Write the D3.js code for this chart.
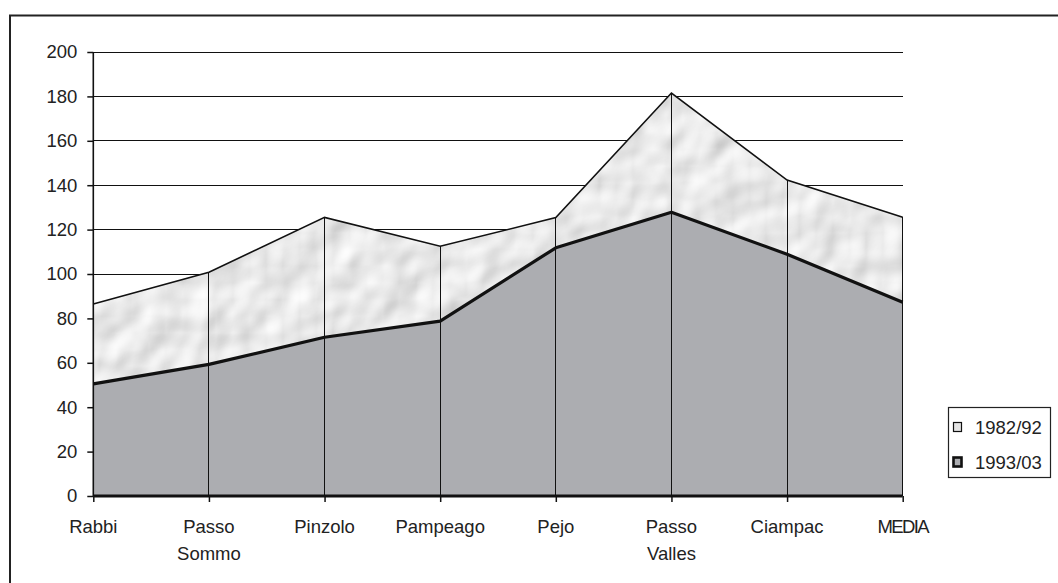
<!DOCTYPE html>
<html><head><meta charset="utf-8">
<script src="https://cdn.jsdelivr.net/npm/d3@7"></script>
<style>body{margin:0;background:#fff}svg{display:block}text{font-family:"Liberation Sans",Arial,sans-serif;fill:#222}</style>
</head><body>
<svg id="c" width="1058" height="583"></svg>
<script>
const categories = ["Rabbi", "Passo\nSommo", "Pinzolo", "Pampeago", "Pejo", "Passo\nValles", "Ciampac", "MEDIA"];
const series1982 = [86.5, 100.8, 125.5, 112.5, 125.4, 181.5, 142.3, 125.6];
const series1993 = [50.5, 59.3, 71.5, 78.8, 111.8, 127.8, 108.9, 87.3];
const seriesNames = ["1982/92", "1993/03"];
const yTicks = [0, 20, 40, 60, 80, 100, 120, 140, 160, 180, 200];

const FS = 18.5;
const svg = d3.select("#c");
const defs = svg.append("defs");
// embossed texture resembling the water-drop fill
const f = defs.append("filter").attr("id","tex").attr("x",0).attr("y",0).attr("width","100%").attr("height","100%")
  .attr("color-interpolation-filters","sRGB");
f.append("feTurbulence").attr("type","fractalNoise").attr("baseFrequency","0.03").attr("numOctaves",2).attr("seed",7).attr("result","n");
const lt = f.append("feDiffuseLighting").attr("in","n").attr("surfaceScale",2.5).attr("diffuseConstant",1.1)
  .attr("lighting-color","#f0f0f0").attr("result","l");
lt.append("feDistantLight").attr("azimuth",225).attr("elevation",62);
f.append("feComposite").attr("in","l").attr("in2","SourceGraphic").attr("operator","in");

// outer frame
svg.append("rect").attr("x",10).attr("y",15.5).attr("width",1100).attr("height",700)
  .attr("fill","none").attr("stroke","#222").attr("stroke-width",2);

const x = d3.scalePoint().domain(d3.range(categories.length)).range([93.3, 902.7]);
const y = d3.scaleLinear().domain([0,200]).range([496,52]);

// horizontal gridlines
svg.append("g").selectAll("line").data(yTicks.filter(d=>d>0)).join("line")
  .attr("x1",x(0)).attr("x2",x(categories.length-1)).attr("y1",d=>y(d)).attr("y2",d=>y(d))
  .attr("stroke","#111").attr("stroke-width",1).attr("shape-rendering","crispEdges");

const area1 = d3.area().x((d,i)=>x(i)).y0(y(0)).y1(d=>y(d));
const line1 = d3.line().x((d,i)=>x(i)).y(d=>y(d));

// 1982/92 area (light textured)
const clip = defs.append("clipPath").attr("id","a1");
clip.append("path").attr("d",area1(series1982));
svg.append("path").attr("d",area1(series1982)).attr("fill","#e8e8e8");
const tg = svg.append("g").attr("clip-path","url(#a1)");
tg.append("rect").attr("x",x(0)).attr("y",y(200)).attr("width",x(7)-x(0)).attr("height",y(0)-y(200))
  .attr("fill","#e8e8e8").attr("filter","url(#tex)");

// 1993/03 area
svg.append("path").attr("d",area1(series1993)).attr("fill","#acadb1");

// drop lines
svg.append("g").selectAll("line").data(series1982).join("line")
  .attr("x1",(d,i)=>x(i)).attr("x2",(d,i)=>x(i)).attr("y1",d=>y(d)).attr("y2",y(0))
  .attr("stroke","#111").attr("stroke-width",1).attr("shape-rendering","crispEdges");

svg.append("path").attr("d",line1(series1982)).attr("fill","none").attr("stroke","#111").attr("stroke-width",1.6);
svg.append("path").attr("d",line1(series1993)).attr("fill","none").attr("stroke","#111").attr("stroke-width",3.2).attr("stroke-linejoin","round");

// y axis
const ya = svg.append("g").attr("transform",`translate(${x(0)},0)`)
  .call(d3.axisLeft(y).tickValues(yTicks).tickSize(6).tickPadding(10));
ya.select(".domain").attr("stroke","#111").attr("stroke-width",1.6).attr("d",`M0,${y(200)}V${y(0)}`);
ya.selectAll(".tick line").attr("stroke","#111").attr("stroke-width",1.5);
ya.selectAll(".tick text").attr("font-size",FS).attr("fill","#222").attr("font-family","Liberation Sans, Arial, sans-serif");

// x axis
const xa = svg.append("g").attr("transform",`translate(0,${y(0)})`)
  .call(d3.axisBottom(x).tickSize(6).tickFormat(""));
xa.select(".domain").attr("stroke","#111").attr("stroke-width",3).attr("d",`M${x(0)},0H${x(7)}`);
xa.selectAll(".tick line").attr("stroke","#111").attr("stroke-width",1.5);
svg.append("g").selectAll("text").data(categories).join("text")
  .attr("x",(d,i)=>x(i)).attr("y",533).attr("text-anchor","middle").attr("font-size",FS)
  .attr("letter-spacing",d=>d==="MEDIA"?-1.6:0)
  .each(function(d){
    const parts = d.split("\n");
    d3.select(this).selectAll("tspan").data(parts).join("tspan")
      .attr("x",d3.select(this).attr("x")).attr("dy",(p,j)=>j?27:0).text(p=>p);
  });

// legend
const lg = svg.append("g");
lg.append("rect").attr("x",948.5).attr("y",407.5).attr("width",102).attr("height",70)
  .attr("fill","#fff").attr("stroke","#222").attr("stroke-width",1.2);
const items = [{n:seriesNames[0],fill:"#e4e4e4",sw:1.2},{n:seriesNames[1],fill:"#acadb1",sw:2.6}];
items.forEach((it,i)=>{
  const cy = 427 + i*35;
  lg.append("rect").attr("x",953.5).attr("y",cy-4.5).attr("width",8).attr("height",9)
    .attr("fill",it.fill).attr("stroke","#111").attr("stroke-width",it.sw);
  lg.append("text").attr("x",975).attr("y",cy+6.5).attr("font-size",FS).text(it.n);
});
</script>
</body></html>
